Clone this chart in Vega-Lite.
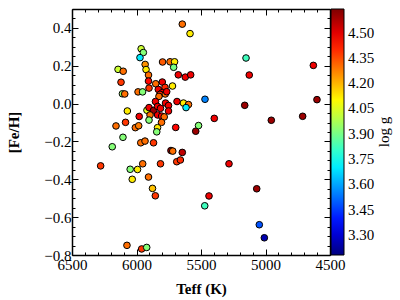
{
  "$schema": "https://vega.github.io/schema/vega-lite/v6.json",
  "width": 258,
  "height": 246,
  "autosize": {"type": "none"},
  "padding": {"left": 72, "top": 9, "right": 70, "bottom": 45},
  "config": {
    "font": "Liberation Serif",
    "view": {"stroke": null},
    "axis": {
      "grid": false,
      "domainColor": "black",
      "domainWidth": 1.5,
      "tickColor": "black",
      "tickWidth": 1,
      "labelFont": "Liberation Serif",
      "labelFontSize": 15,
      "labelColor": "black",
      "titleFont": "Liberation Serif",
      "titleFontSize": 15,
      "titleFontWeight": "bold",
      "titleColor": "black"
    },
    "legend": {
      "labelFont": "Liberation Serif",
      "labelFontSize": 15,
      "labelColor": "black",
      "titleFont": "Liberation Serif",
      "titleFontSize": 15,
      "titleFontWeight": "normal",
      "titleColor": "black"
    }
  },
  "data": {
    "values": [
      {"teff": 5645, "feh": 0.42, "logg": 4.3},
      {"teff": 5585, "feh": 0.37, "logg": 4.12},
      {"teff": 5964, "feh": 0.29, "logg": 4.02},
      {"teff": 5947, "feh": 0.27, "logg": 3.92},
      {"teff": 5973, "feh": 0.243, "logg": 3.7},
      {"teff": 5798, "feh": 0.22, "logg": 4.33},
      {"teff": 5740, "feh": 0.221, "logg": 4.3},
      {"teff": 5705, "feh": 0.221, "logg": 4.12},
      {"teff": 5712, "feh": 0.192, "logg": 3.9},
      {"teff": 5933, "feh": 0.207, "logg": 4.25},
      {"teff": 5926, "feh": 0.18, "logg": 4.12},
      {"teff": 6143, "feh": 0.181, "logg": 4.02},
      {"teff": 6103, "feh": 0.171, "logg": 4.3},
      {"teff": 5907, "feh": 0.151, "logg": 4.3},
      {"teff": 5676, "feh": 0.152, "logg": 4.48},
      {"teff": 5622, "feh": 0.14, "logg": 4.48},
      {"teff": 5580, "feh": 0.152, "logg": 4.48},
      {"teff": 5907, "feh": 0.119, "logg": 4.45},
      {"teff": 6120, "feh": 0.113, "logg": 4.38},
      {"teff": 5851, "feh": 0.105, "logg": 4.3},
      {"teff": 5800, "feh": 0.114, "logg": 4.48},
      {"teff": 5903, "feh": 0.082, "logg": 4.38},
      {"teff": 5779, "feh": 0.086, "logg": 4.4},
      {"teff": 5721, "feh": 0.093, "logg": 4.12},
      {"teff": 5988, "feh": 0.062, "logg": 4.3},
      {"teff": 5953, "feh": 0.062, "logg": 3.92},
      {"teff": 6109, "feh": 0.052, "logg": 3.95},
      {"teff": 6091, "feh": 0.051, "logg": 4.3},
      {"teff": 5831, "feh": 0.075, "logg": 4.48},
      {"teff": 5800, "feh": 0.058, "logg": 4.48},
      {"teff": 5818, "feh": 0.049, "logg": 4.4},
      {"teff": 5777, "feh": 0.051, "logg": 4.3},
      {"teff": 5766, "feh": 0.063, "logg": 4.48},
      {"teff": 5826, "feh": 0.038, "logg": 4.3},
      {"teff": 5853, "feh": 0.011, "logg": 4.48},
      {"teff": 5775, "feh": 0.003, "logg": 4.48},
      {"teff": 5686, "feh": 0.011, "logg": 4.48},
      {"teff": 5636, "feh": 0.003, "logg": 4.12},
      {"teff": 5597, "feh": -0.005, "logg": 4.3},
      {"teff": 5616, "feh": -0.021, "logg": 3.7},
      {"teff": 6071, "feh": -0.039, "logg": 4.12},
      {"teff": 5979, "feh": -0.068, "logg": 4.48},
      {"teff": 5919, "feh": -0.035, "logg": 4.05},
      {"teff": 5903, "feh": -0.021, "logg": 4.48},
      {"teff": 5868, "feh": -0.036, "logg": 4.6},
      {"teff": 5837, "feh": -0.015, "logg": 4.48},
      {"teff": 5814, "feh": -0.025, "logg": 4.48},
      {"teff": 5752, "feh": -0.01, "logg": 4.48},
      {"teff": 5752, "feh": -0.039, "logg": 4.48},
      {"teff": 5895, "feh": -0.06, "logg": 4.3},
      {"teff": 5836, "feh": -0.06, "logg": 4.48},
      {"teff": 5805, "feh": -0.066, "logg": 4.45},
      {"teff": 5785, "feh": -0.07, "logg": 4.3},
      {"teff": 5903, "feh": -0.087, "logg": 3.92},
      {"teff": 5806, "feh": -0.099, "logg": 4.3},
      {"teff": 5837, "feh": -0.127, "logg": 4.12},
      {"teff": 5843, "feh": -0.149, "logg": 3.92},
      {"teff": 6009, "feh": -0.127, "logg": 4.3},
      {"teff": 5983, "feh": -0.117, "logg": 4.28},
      {"teff": 6085, "feh": -0.099, "logg": 4.38},
      {"teff": 6159, "feh": -0.118, "logg": 4.3},
      {"teff": 5696, "feh": -0.126, "logg": 4.45},
      {"teff": 5541, "feh": -0.146, "logg": 4.6},
      {"teff": 5519, "feh": -0.116, "logg": 3.92},
      {"teff": 6105, "feh": -0.178, "logg": 3.92},
      {"teff": 6188, "feh": -0.228, "logg": 3.92},
      {"teff": 5967, "feh": -0.207, "logg": 4.3},
      {"teff": 5934, "feh": -0.198, "logg": 4.3},
      {"teff": 5868, "feh": -0.207, "logg": 4.38},
      {"teff": 5733, "feh": -0.248, "logg": 4.6},
      {"teff": 5719, "feh": -0.251, "logg": 4.3},
      {"teff": 5645, "feh": -0.258, "logg": 4.55},
      {"teff": 6278, "feh": -0.329, "logg": 4.38},
      {"teff": 6049, "feh": -0.347, "logg": 3.92},
      {"teff": 5992, "feh": -0.348, "logg": 4.12},
      {"teff": 5952, "feh": -0.318, "logg": 4.3},
      {"teff": 5814, "feh": -0.318, "logg": 4.38},
      {"teff": 5688, "feh": -0.307, "logg": 4.38},
      {"teff": 5660, "feh": -0.298, "logg": 4.4},
      {"teff": 6033, "feh": -0.4, "logg": 4.12},
      {"teff": 5907, "feh": -0.388, "logg": 4.3},
      {"teff": 5876, "feh": -0.448, "logg": 4.18},
      {"teff": 5854, "feh": -0.487, "logg": 4.38},
      {"teff": 6074, "feh": -0.749, "logg": 4.3},
      {"teff": 5960, "feh": -0.768, "logg": 4.38},
      {"teff": 5921, "feh": -0.76, "logg": 3.92},
      {"teff": 5151, "feh": 0.241, "logg": 3.82},
      {"teff": 5126, "feh": 0.151, "logg": 4.48},
      {"teff": 4629, "feh": 0.202, "logg": 4.48},
      {"teff": 5469, "feh": 0.023, "logg": 3.55},
      {"teff": 5161, "feh": -0.009, "logg": 4.6},
      {"teff": 4601, "feh": 0.021, "logg": 4.6},
      {"teff": 5397, "feh": -0.078, "logg": 4.48},
      {"teff": 4955, "feh": -0.088, "logg": 4.6},
      {"teff": 4712, "feh": -0.067, "logg": 4.6},
      {"teff": 5283, "feh": -0.318, "logg": 4.48},
      {"teff": 5068, "feh": -0.45, "logg": 4.6},
      {"teff": 5438, "feh": -0.488, "logg": 4.48},
      {"teff": 5471, "feh": -0.54, "logg": 3.82},
      {"teff": 5048, "feh": -0.64, "logg": 3.48},
      {"teff": 5009, "feh": -0.709, "logg": 3.25}
    ]
  },
  "layer": [
    {
      "mark": {"type": "point", "filled": true, "shape": "circle", "size": 44, "stroke": "black", "strokeWidth": 1, "opacity": 1},
      "encoding": {
        "x": {
          "field": "teff", "type": "quantitative",
          "scale": {"domain": [4500, 6500], "reverse": true, "nice": false, "zero": false},
          "axis": {
            "orient": "bottom",
            "title": "Teff (K)",
            "values": [4500,4600,4700,4800,4900,5000,5100,5200,5300,5400,5500,5600,5700,5800,5900,6000,6100,6200,6300,6400,6500],
            "format": "d",
            "labelExpr": "datum.value % 500 === 0 ? datum.label : ''",
            "tickSize": {"condition": {"test": "datum.value % 500 === 0", "value": -6}, "value": -3},
            "labelPadding": 8,
            "labelFlush": false,
            "labelOverlap": false,
            "titlePadding": 6
          }
        },
        "y": {
          "field": "feh", "type": "quantitative",
          "scale": {"domain": [-0.8, 0.5], "nice": false, "zero": false},
          "axis": {
            "orient": "left",
            "title": "[Fe/H]",
            "values": [-0.8,-0.75,-0.7,-0.65,-0.6,-0.55,-0.5,-0.45,-0.4,-0.35,-0.3,-0.25,-0.2,-0.15,-0.1,-0.05,0,0.05,0.1,0.15,0.2,0.25,0.3,0.35,0.4,0.45,0.5],
            "format": ".1f",
            "labelExpr": "abs(round(datum.value*100)) % 20 === 0 && datum.value < 0.45 ? datum.label : ''",
            "tickSize": {"condition": {"test": "abs(round(datum.value*100)) % 20 === 0", "value": -6}, "value": -3},
            "labelPadding": 7,
            "labelFlush": false,
            "labelOverlap": false,
            "titlePadding": 22
          }
        },
        "color": {
          "field": "logg", "type": "quantitative",
          "scale": {
            "domain": [3.18, 4.64],
            "range": ["#00007f", "#0000ff", "#007fff", "#00ffff", "#7fff7f", "#ffff00", "#ff7f00", "#ff0000", "#7f0000"],
            "interpolate": "rgb"
          },
          "legend": {
            "title": "log g",
            "orient": "right",
            "offset": 0,
            "padding": 0,
            "direction": "vertical",
            "gradientLength": 246,
            "gradientThickness": 13,
            "gradientStrokeColor": "black",
            "gradientStrokeWidth": 1,
            "values": [3.3, 3.45, 3.6, 3.75, 3.9, 4.05, 4.2, 4.35, 4.5],
            "format": ".2f",
            "labelOverlap": false,
            "labelOffset": 4,
            "titleOrient": "right",
            "titlePadding": 18,
            "encoding": {"title": {"angle": {"value": 270}}}
          }
        }
      }
    },
    {
      "mark": {"type": "point", "opacity": 0},
      "encoding": {
        "x": {
          "field": "teff", "type": "quantitative",
          "scale": {"domain": [4500, 6500], "reverse": true, "nice": false, "zero": false},
          "axis": {
            "orient": "top",
            "title": null,
            "labels": false,
            "values": [4500,4600,4700,4800,4900,5000,5100,5200,5300,5400,5500,5600,5700,5800,5900,6000,6100,6200,6300,6400,6500],
            "tickSize": {"condition": {"test": "datum.value % 500 === 0", "value": -6}, "value": -3}
          }
        },
        "y": {
          "field": "feh", "type": "quantitative",
          "scale": {"domain": [-0.8, 0.5], "nice": false, "zero": false},
          "axis": {
            "orient": "right",
            "title": null,
            "labels": false,
            "values": [-0.8,-0.75,-0.7,-0.65,-0.6,-0.55,-0.5,-0.45,-0.4,-0.35,-0.3,-0.25,-0.2,-0.15,-0.1,-0.05,0,0.05,0.1,0.15,0.2,0.25,0.3,0.35,0.4,0.45,0.5],
            "tickSize": {"condition": {"test": "abs(round(datum.value*100)) % 20 === 0", "value": -6}, "value": -3}
          }
        }
      }
    }
  ],
  "resolve": {"axis": {"x": "independent", "y": "independent"}}
}
